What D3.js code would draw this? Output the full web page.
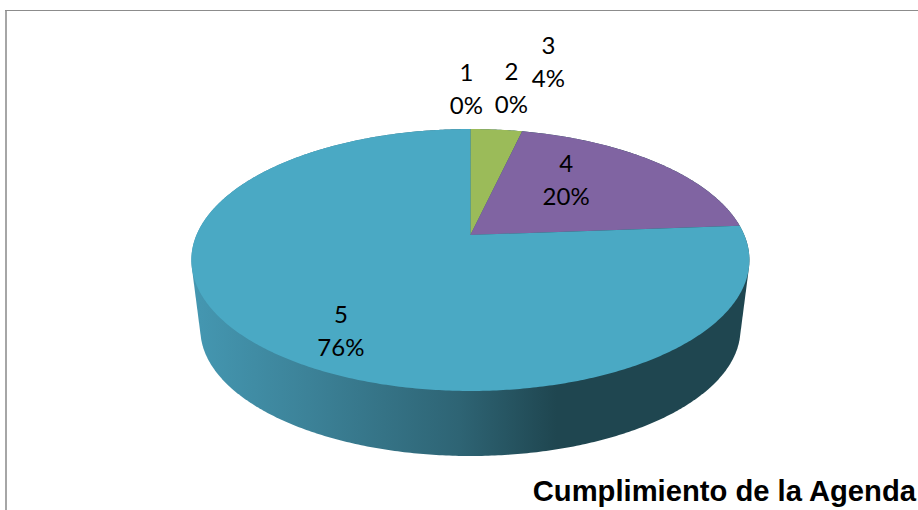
<!DOCTYPE html>
<html>
<head>
<meta charset="utf-8">
<script src="https://cdn.jsdelivr.net/npm/d3@7"></script>
<style>
html,body{margin:0;padding:0;background:#fff;overflow:hidden}
svg{display:block}
</style>
</head>
<body>
<svg id="chart" width="918" height="510"></svg>
<script>
const categories = ["1", "2", "3", "4", "5"];
const values = [0, 0, 3.6, 20.2, 76.2];
const sliceColors = ["#4f81bd", "#c0504d", "#9bbb59", "#8064a2", "#4aa9c4"];
const chartTitle = "Cumplimiento de la Agenda";
const labelNudges = [[-4, -40], [41, -41], [52, -68], [-89, 18], [87, -12]];

const svg = d3.select("#chart");
const W = 918, H = 510;
const topFace = {cx: 470.4, cy: 235, a: 273.9, b: 126.2, k: 0.1908};
const baseFace = {cx: 470.4, cy: 305, a: 265.1, b: 122.2, k: 0.1908};

function project(face, theta) {
  const u = Math.sin(theta), v = Math.cos(theta), w = 1 + face.k * v;
  return [face.cx + face.a * u / w, face.cy - face.b * v / w];
}
function samples(a0, a1) {
  const n = Math.max(2, Math.ceil((a1 - a0) / 0.01));
  return d3.range(n + 1).map(i => a0 + (a1 - a0) * i / n);
}

const arcs = d3.pie().value(d => d).sort(null)(values);
const line = d3.line();

const defs = svg.append("defs");
const wallGrad = defs.append("linearGradient")
  .attr("id", "wall").attr("gradientUnits", "userSpaceOnUse")
  .attr("x1", 200).attr("x2", 740).attr("y1", 0).attr("y2", 0);
[[0, "#4496b0"], [0.2, "#3c8298"], [0.48, "#2e6474"], [0.66, "#1f4650"], [1, "#1f4650"]]
  .forEach(s => wallGrad.append("stop").attr("offset", s[0]).attr("stop-color", s[1]));

// frame
svg.append("line").attr("x1", 6).attr("x2", 6).attr("y1", 10).attr("y2", H)
  .attr("stroke", "#a6a6a6").attr("stroke-width", 2);
svg.append("line").attr("x1", 5).attr("x2", W).attr("y1", 10.5).attr("y2", 10.5)
  .attr("stroke", "#8c8c8c").attr("stroke-width", 1);

// side wall: convex hull of the top rim and the base rim
const rimAngles = samples(0, 2 * Math.PI);
const wallHull = d3.polygonHull(
  rimAngles.map(t => project(topFace, t)).concat(rimAngles.map(t => project(baseFace, t)))
);
svg.append("path").attr("d", line(wallHull) + "Z").attr("fill", "url(#wall)");

// top face
arcs.forEach((d, i) => {
  if (d.endAngle - d.startAngle <= 0) return;
  const pts = [[topFace.cx, topFace.cy]].concat(samples(d.startAngle, d.endAngle).map(t => project(topFace, t)));
  svg.append("path").attr("d", line(pts) + "Z").attr("fill", sliceColors[i]);
});

// labels
const total = d3.sum(values);
arcs.forEach((d, i) => {
  const p = project(topFace, (d.startAngle + d.endAngle) / 2);
  const x = p[0] + labelNudges[i][0], y = p[1] + labelNudges[i][1];
  const t = svg.append("text").attr("text-anchor", "middle")
    .attr("font-family", "Lato, sans-serif").attr("font-size", 24).attr("fill", "#000");
  t.append("tspan").attr("x", x).attr("y", y - 8).text(categories[i]);
  t.append("tspan").attr("x", x).attr("y", y + 25).text(d3.format(".0%")(values[i] / total));
});

svg.append("text").attr("x", 916).attr("y", 500.5).attr("text-anchor", "end")
  .attr("font-family", "'Liberation Sans', Arial, sans-serif").attr("font-weight", "bold")
  .attr("font-size", 29.2).attr("fill", "#000").text(chartTitle);
</script>
</body>
</html>
